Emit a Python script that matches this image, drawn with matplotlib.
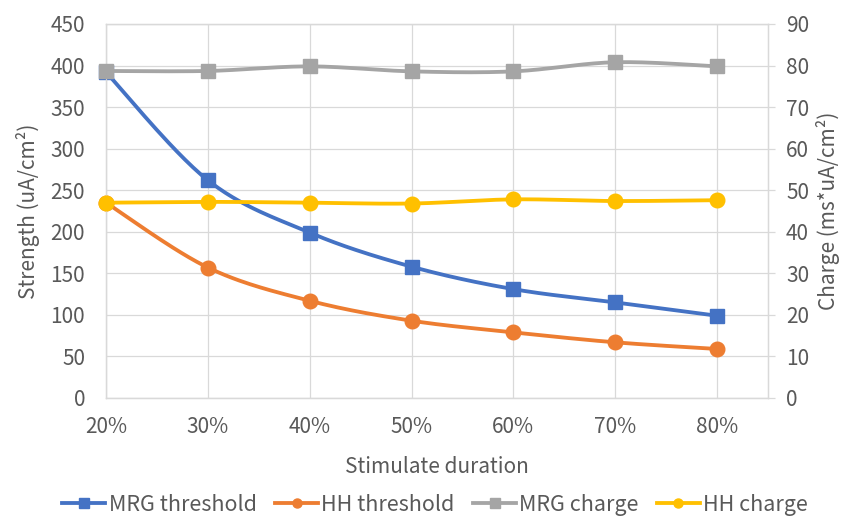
import numpy as np
import matplotlib
matplotlib.use("Agg")
import matplotlib.pyplot as plt
from matplotlib.lines import Line2D

plt.rcParams['font.family'] = ['Noto Sans CJK JP', 'DejaVu Sans']

# ---- data ----
categories = ["20%", "30%", "40%", "50%", "60%", "70%", "80%"]
x_vals = [0.2, 0.3, 0.4, 0.5, 0.6, 0.7, 0.8]
mrg_threshold = [392, 262, 199, 158, 131, 115, 99]
hh_threshold = [235, 157, 117, 93, 79, 67, 59]
mrg_charge = [78.7, 78.7, 79.8, 78.6, 78.6, 80.8, 79.8]
hh_charge = [47.0, 47.2, 47.0, 46.8, 47.8, 47.4, 47.6]

TXT = '#595959'
GRID = '#D9D9D9'
C_BLUE = '#4472C4'
C_ORANGE = '#ED7D31'
C_GRAY = '#A5A5A5'
C_YELLOW = '#FFC000'
FS = 15


def smooth(xs, ys, n=30):
    """Excel-like smoothed line (Catmull-Rom as cubic Bezier)."""
    p = np.column_stack([xs, ys]).astype(float)
    ext = np.vstack([p[0], p, p[-1]])
    out = []
    t = np.linspace(0, 1, n)[:, None]
    for i in range(len(p) - 1):
        p0 = ext[i + 1]
        p3 = ext[i + 2]
        c1 = p0 + (ext[i + 2] - ext[i]) / 6.0
        c2 = p3 - (ext[i + 3] - ext[i + 1]) / 6.0
        seg = ((1 - t) ** 3) * p0 + 3 * ((1 - t) ** 2) * t * c1 + 3 * (1 - t) * t ** 2 * c2 + t ** 3 * p3
        out.append(seg if i == 0 else seg[1:])
    out = np.vstack(out)
    return out[:, 0], out[:, 1]


fig = plt.figure(figsize=(8.5, 5.2), dpi=100)
ax = fig.add_axes([106 / 850, 1 - 398 / 520, 662 / 850, 374 / 520])
ax2 = ax.twinx()

LW = 2.75
MS = 10.5

for ys, col, mk in [(mrg_threshold, C_BLUE, 's'), (hh_threshold, C_ORANGE, 'o')]:
    sx, sy = smooth(x_vals, ys)
    ax.plot(sx, sy, color=col, lw=LW, solid_capstyle='round', zorder=3)
    ax.plot(x_vals, ys, ls='none', marker=mk, ms=MS, color=col, mec=col, zorder=4, clip_on=False)

for ys, col, mk in [(mrg_charge, C_GRAY, 's'), (hh_charge, C_YELLOW, 'o')]:
    sx, sy = smooth(x_vals, ys)
    ax2.plot(sx, sy, color=col, lw=LW, solid_capstyle='round', zorder=3)
    ax2.plot(x_vals, ys, ls='none', marker=mk, ms=MS, color=col, mec=col, zorder=4, clip_on=False)

ax.set_xlim(0.2, 0.85)
ax.set_ylim(0, 450)
ax2.set_ylim(0, 90)
ax.set_xticks(x_vals)
ax.set_xticklabels(categories)
ax.set_yticks(np.arange(0, 451, 50))
ax2.set_yticks(np.arange(0, 91, 10))

ax.grid(True, color=GRID, lw=0.9)
ax.set_axisbelow(True)

for a in (ax, ax2):
    for s in a.spines.values():
        s.set_color(GRID)
        s.set_linewidth(0.9)

ax.tick_params(axis='both', length=0, labelsize=FS, labelcolor=TXT)
ax.tick_params(axis='y', pad=15)
ax.tick_params(axis='x', pad=13)
ax2.tick_params(axis='y', length=5, width=0.9, color=GRID, labelsize=FS, labelcolor=TXT, pad=8)

ax.set_ylabel("Strength (uA/cm²)", fontsize=FS, color=TXT, va='center', ha='center')
ax.yaxis.set_label_coords(-0.118, 0.5)
ax2.set_ylabel("Charge (ms*uA/cm²)", fontsize=FS, color=TXT, rotation=90, va='center', ha='center')
ax2.yaxis.set_label_coords(1.0906, 0.5)
ax.set_xlabel("Stimulate duration", fontsize=FS, color=TXT, va='center', ha='center')
ax.xaxis.set_label_coords(0.5, -0.184)

handles = [
    Line2D([], [], color=C_BLUE, lw=LW, marker='s', ms=6.5, mec=C_BLUE),
    Line2D([], [], color=C_ORANGE, lw=LW, marker='o', ms=6.5, mec=C_ORANGE),
    Line2D([], [], color=C_GRAY, lw=LW, marker='s', ms=6.5, mec=C_GRAY),
    Line2D([], [], color=C_YELLOW, lw=LW, marker='o', ms=6.5, mec=C_YELLOW),
]
labels = ["MRG threshold", "HH threshold", "MRG charge", "HH charge"]
leg = fig.legend(handles, labels, loc='center', bbox_to_anchor=(0.512, 1 - 505 / 520), ncol=4,
                 frameon=False, fontsize=15.5, handlelength=2.0, handletextpad=0.15,
                 columnspacing=0.85, labelcolor=TXT)

fig.savefig("out.png", dpi=100)
